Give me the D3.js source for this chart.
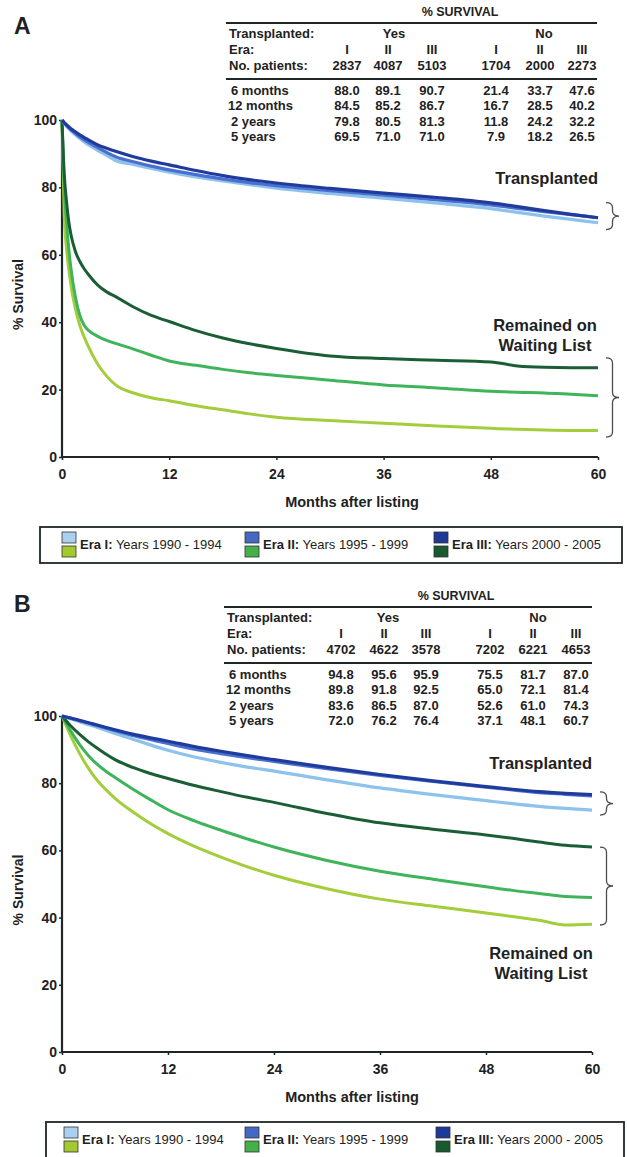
<!DOCTYPE html>
<html>
<head>
<meta charset="utf-8">
<script src="https://cdn.jsdelivr.net/npm/d3@7"></script>
<style>
  body { margin: 0; background: #fff; }
  text { font-family: "Liberation Sans", Arial, sans-serif; fill: #1e2222; }
</style>
</head>
<body>
<script>
// ---- data ----
var eraNames = ["I", "II", "III"];
var legendLabels = ["Era I:", "Era II:", "Era III:"];
var legendYears = [" Years 1990 - 1994", " Years 1995 - 1999", " Years 2000 - 2005"];
var xTicks = [0, 12, 24, 36, 48, 60];
var yTicks = [0, 20, 40, 60, 80, 100];
var rowLabels = ["6 months", "12 months", "2 years", "5 years"];

// panel A : survival by month
var monthsA = [0, 0.25, 0.5, 0.75, 1, 1.5, 2, 2.5, 3, 4, 5, 6, 8, 10, 12, 15, 18, 21, 24, 30, 36, 42, 48, 51, 54, 57, 60];
var txA1 = [100, 99, 98.2, 97.5, 96.8, 95.6, 94.5, 93.5, 92.6, 91, 89.5, 88.0, 86.8, 85.6, 84.5, 83.1, 81.9, 80.8, 79.8, 78.2, 76.8, 75.3, 73.7, 72.6, 71.5, 70.5, 69.5];
var txA2 = [100, 99.1, 98.4, 97.7, 97.1, 96, 95, 94.1, 93.3, 91.8, 90.4, 89.1, 87.6, 86.3, 85.2, 83.8, 82.5, 81.4, 80.5, 79, 77.7, 76.3, 74.8, 73.8, 72.8, 71.9, 71.0];
var txA3 = [100, 99.2, 98.6, 98, 97.4, 96.5, 95.6, 94.8, 94, 92.6, 91.6, 90.7, 89.1, 87.8, 86.7, 85, 83.5, 82.3, 81.3, 79.7, 78.3, 77, 75.4, 74.3, 73.1, 72, 71.0];
var wlA1 = [100, 72, 62, 56, 51, 44, 39, 35.5, 32.5, 27.5, 24, 21.4, 19, 17.6, 16.7, 15.2, 14, 12.8, 11.8, 10.8, 10, 9.2, 8.5, 8.2, 8, 7.9, 7.9];
var wlA2 = [100, 80, 70, 62, 56, 47.5, 42, 39, 37.5, 35.8, 34.6, 33.7, 32, 30.2, 28.5, 27.2, 26, 25, 24.2, 22.8, 21.4, 20.5, 19.5, 19.2, 19, 18.6, 18.2];
var wlA3 = [100, 84, 76, 70, 66, 61, 58, 55.8, 54, 51, 49, 47.6, 44.5, 42, 40.2, 37.5, 35.3, 33.6, 32.2, 30, 29.2, 28.7, 28.2, 27, 26.6, 26.5, 26.5];
var patientsA = [2837, 4087, 5103, 1704, 2000, 2273];
var survA = [
  [88.0, 89.1, 90.7, 21.4, 33.7, 47.6],
  [84.5, 85.2, 86.7, 16.7, 28.5, 40.2],
  [79.8, 80.5, 81.3, 11.8, 24.2, 32.2],
  [69.5, 71.0, 71.0, 7.9, 18.2, 26.5]
];

// panel B : survival by month
var monthsB = [0, 1, 2, 3, 4, 5, 6, 8, 10, 12, 15, 18, 21, 24, 30, 36, 42, 48, 51, 54, 57, 60];
var txB1 = [100, 99.2, 98.3, 97.4, 96.6, 95.7, 94.8, 93.1, 91.4, 89.8, 87.8, 86.2, 84.8, 83.6, 81, 78.6, 76.6, 74.8, 73.9, 73.1, 72.5, 72.0];
var txB2 = [100, 99.3, 98.6, 97.9, 97.1, 96.4, 95.6, 94.2, 93, 91.8, 90.1, 88.8, 87.6, 86.5, 84.3, 82.3, 80.5, 78.8, 78, 77.2, 76.7, 76.2];
var txB3 = [100, 99.4, 98.7, 98.0, 97.3, 96.6, 95.9, 94.6, 93.5, 92.5, 90.9, 89.5, 88.2, 87.0, 84.7, 82.6, 80.7, 79, 78.2, 77.5, 77, 76.6];
var wlB1 = [100, 94, 88.8, 84.4, 80.8, 78, 75.5, 71.5, 68, 65.0, 61.2, 58, 55.1, 52.6, 48.6, 45.5, 43.4, 41.4, 40.3, 39.2, 37.8, 38];
var wlB2 = [100, 95.5, 91.5, 88.2, 85.6, 83.5, 81.7, 78.3, 75.1, 72.1, 68.8, 66, 63.4, 61.0, 57, 53.8, 51.4, 49.2, 48.1, 47.2, 46.3, 46];
var wlB3 = [100, 97, 94.5, 92.3, 90.4, 88.6, 87.0, 84.7, 82.9, 81.4, 79.3, 77.5, 75.8, 74.3, 71, 68.2, 66.3, 64.6, 63.6, 62.5, 61.5, 61];
var patientsB = [4702, 4622, 3578, 7202, 6221, 4653];
var survB = [
  [94.8, 95.6, 95.9, 75.5, 81.7, 87.0],
  [89.8, 91.8, 92.5, 65.0, 72.1, 81.4],
  [83.6, 86.5, 87.0, 52.6, 61.0, 74.3],
  [72.0, 76.2, 76.4, 37.1, 48.1, 60.7]
];

// ---- styles ----
var txColors = ["#8cc2ec", "#4a6fd0", "#1f3c9c"];
var wlColors = ["#a3cd3b", "#3fb45a", "#1b5e35"];
var legTop = ["#a9d0ee", "#4468c4", "#1d3a98"];
var legBottom = ["#a3c92f", "#45b04a", "#18592f"];
var ink = "#1e2626";

var svg = d3.select("body").append("svg")
  .attr("width", 627).attr("height", 1157);
svg.append("rect").attr("width", 627).attr("height", 1157).attr("fill", "#fff");

var panels = [
  {
    letter: "A", letterY: 34,
    months: monthsA, tx: [txA1, txA2, txA3], wl: [wlA1, wlA2, wlA3],
    patients: patientsA, surv: survA,
    x0: 62, x1: 598, yTop: 120, yBot: 457,
    tTop: 23, tX0: 226, tX1: 597, cols: [347, 388, 432, 496, 540, 582], yesX: 394, noX: 544, survX: 460,
    txLabelY: 184, wlLabelY: 331, wlLabelX: 545,
    braceTx: [75.5, 67.5], braceWl: [29.4, 5.9],
    legY: 527, legH: 36, legX0: 40, legX1: 622, legItems: [62, 245, 434]
  },
  {
    letter: "B", letterY: 612,
    months: monthsB, tx: [txB1, txB2, txB3], wl: [wlB1, wlB2, wlB3],
    patients: patientsB, surv: survB,
    x0: 62, x1: 592, yTop: 716, yBot: 1052,
    tTop: 607, tX0: 224, tX1: 592, cols: [341, 384, 426, 490, 533, 576], yesX: 388, noX: 538, survX: 456,
    txLabelY: 769, wlLabelY: 959, wlLabelX: 541,
    braceTx: [77.4, 70.5], braceWl: [61, 37.8],
    legY: 1122, legH: 40, legX0: 46, legX1: 624, legItems: [64, 245, 436]
  }
];

panels.forEach(function(p){ drawPanel(p); });

function brace(x, ya, yb, w){
  var ym = (ya + yb) / 2, r = Math.min(5, (yb - ya) / 4), h = w / 2;
  return "M" + x + "," + ya +
    " Q" + (x + h) + "," + ya + " " + (x + h) + "," + (ya + r) +
    " L" + (x + h) + "," + (ym - r) +
    " Q" + (x + h) + "," + ym + " " + (x + w) + "," + ym +
    " Q" + (x + h) + "," + ym + " " + (x + h) + "," + (ym + r) +
    " L" + (x + h) + "," + (yb - r) +
    " Q" + (x + h) + "," + yb + " " + x + "," + yb;
}

function drawPanel(p){
  var g = svg.append("g");

  var xscale = d3.scaleLinear().domain([0, 60]).range([p.x0, p.x1]);
  var yscale = d3.scaleLinear().domain([0, 100]).range([p.yBot, p.yTop]);

  // panel letter
  g.append("text").attr("x", 14).attr("y", p.letterY)
    .attr("font-size", 23).attr("font-weight", "bold").text(p.letter);

  // ---- table ----
  var t = p.tTop;
  g.append("text").attr("x", p.survX).attr("y", t - 7).attr("text-anchor", "middle")
    .attr("font-size", 12.5).attr("font-weight", "bold").text("% SURVIVAL");
  g.append("line").attr("x1", p.tX0).attr("x2", p.tX1).attr("y1", t).attr("y2", t)
    .attr("stroke", ink).attr("stroke-width", 2);
  g.append("line").attr("x1", p.tX0).attr("x2", p.tX1).attr("y1", t + 56).attr("y2", t + 56)
    .attr("stroke", ink).attr("stroke-width", 2.2);

  var tf = function(sel){ return sel.attr("font-size", 13).attr("font-weight", "bold"); };
  var rowY = [t + 15, t + 31, t + 47];
  tf(g.append("text").attr("x", p.tX0 + 3).attr("y", rowY[0]).text("Transplanted:"));
  tf(g.append("text").attr("x", p.tX0 + 3).attr("y", rowY[1]).text("Era:"));
  tf(g.append("text").attr("x", p.tX0 + 3).attr("y", rowY[2]).text("No. patients:"));
  tf(g.append("text").attr("x", p.yesX).attr("y", rowY[0]).attr("text-anchor", "middle").text("Yes"));
  tf(g.append("text").attr("x", p.noX).attr("y", rowY[0]).attr("text-anchor", "middle").text("No"));

  p.cols.forEach(function(cx, i){
    tf(g.append("text").attr("x", cx).attr("y", rowY[1]).attr("text-anchor", "middle")
      .text(eraNames[i % 3]));
    tf(g.append("text").attr("x", cx).attr("y", rowY[2]).attr("text-anchor", "middle")
      .text(p.patients[i]));
  });

  p.surv.forEach(function(row, r){
    var yy = t + 72 + r * 15.3;
    var lab = rowLabels[r];
    tf(g.append("text").attr("x", p.tX0 + (lab.indexOf("12") === 0 ? 2 : 5)).attr("y", yy).text(lab));
    row.forEach(function(v, i){
      tf(g.append("text").attr("x", p.cols[i]).attr("y", yy).attr("text-anchor", "middle")
        .text(v.toFixed(1)));
    });
  });

  // ---- axes ----
  var yAxis = d3.axisLeft(yscale).tickValues(yTicks).tickSize(3).tickPadding(2);
  var xAxis = d3.axisBottom(xscale).tickValues(xTicks).tickSize(3).tickPadding(9);

  var ya = g.append("g").attr("transform", "translate(" + p.x0 + ",0)").call(yAxis);
  var xa = g.append("g").attr("transform", "translate(0," + p.yBot + ")").call(xAxis);
  [ya, xa].forEach(function(a){
    a.select(".domain").attr("stroke", ink).attr("stroke-width", 2.2);
    a.selectAll(".tick line").attr("stroke", ink).attr("stroke-width", 1.5);
    a.selectAll(".tick text").attr("font-size", 14).attr("font-weight", "bold")
      .attr("fill", ink).attr("font-family", "Liberation Sans, Arial, sans-serif");
  });
  ya.select(".domain").attr("d", "M0," + p.yTop + "V" + p.yBot);
  xa.select(".domain").attr("d", "M" + p.x0 + ",0H" + p.x1);

  g.append("text")
    .attr("transform", "translate(23," + ((p.yTop + p.yBot) / 2 + 6) + ") rotate(-90)")
    .attr("text-anchor", "middle").attr("font-size", 14).attr("font-weight", "bold")
    .text("% Survival");
  g.append("text").attr("x", 352).attr("y", p.yBot + 50).attr("text-anchor", "middle")
    .attr("font-size", 14.5).attr("font-weight", "bold").text("Months after listing");

  // ---- curves ----
  var line = d3.line()
    .x(function(d){ return xscale(d[0]); })
    .y(function(d){ return yscale(d[1]); })
    .curve(d3.curveMonotoneX);

  var pairs = function(vals){ return vals.map(function(v, i){ return [p.months[i], v]; }); };

  p.wl.forEach(function(vals, i){
    g.append("path").attr("d", line(pairs(vals))).attr("fill", "none")
      .attr("stroke", wlColors[i]).attr("stroke-width", 3).attr("stroke-linejoin", "round");
  });
  p.tx.forEach(function(vals, i){
    g.append("path").attr("d", line(pairs(vals))).attr("fill", "none")
      .attr("stroke", txColors[i]).attr("stroke-width", 3.2).attr("stroke-linejoin", "round");
  });

  // ---- annotations ----
  g.append("text").attr("x", p.x1).attr("y", p.txLabelY).attr("text-anchor", "end")
    .attr("font-size", 16.5).attr("font-weight", "bold").text("Transplanted");
  g.append("text").attr("x", p.wlLabelX).attr("y", p.wlLabelY).attr("text-anchor", "middle")
    .attr("font-size", 16.5).attr("font-weight", "bold").text("Remained on");
  g.append("text").attr("x", p.wlLabelX).attr("y", p.wlLabelY + 20).attr("text-anchor", "middle")
    .attr("font-size", 16.5).attr("font-weight", "bold").text("Waiting List");

  [p.braceTx, p.braceWl].forEach(function(b){
    g.append("path").attr("d", brace(xscale(60) + 8, yscale(b[0]), yscale(b[1]), 13))
      .attr("fill", "none").attr("stroke", "#4a4e50").attr("stroke-width", 1.3);
  });

  // ---- legend ----
  g.append("rect").attr("x", p.legX0).attr("y", p.legY)
    .attr("width", p.legX1 - p.legX0).attr("height", p.legH)
    .attr("fill", "none").attr("stroke", ink).attr("stroke-width", 1.8);

  p.legItems.forEach(function(lx, i){
    var sy = p.legY + 5;
    g.append("rect").attr("x", lx).attr("y", sy).attr("width", 14).attr("height", 11)
      .attr("fill", legTop[i]).attr("stroke", "#333").attr("stroke-width", 0.8);
    g.append("rect").attr("x", lx).attr("y", sy + 14).attr("width", 14).attr("height", 11)
      .attr("fill", legBottom[i]).attr("stroke", "#333").attr("stroke-width", 0.8);
    var tx = g.append("text").attr("x", lx + 18).attr("y", sy + 17).attr("font-size", 13);
    tx.append("tspan").attr("font-weight", "bold").text(legendLabels[i]);
    tx.append("tspan").text(legendYears[i]);
  });
}
</script>
</body>
</html>
